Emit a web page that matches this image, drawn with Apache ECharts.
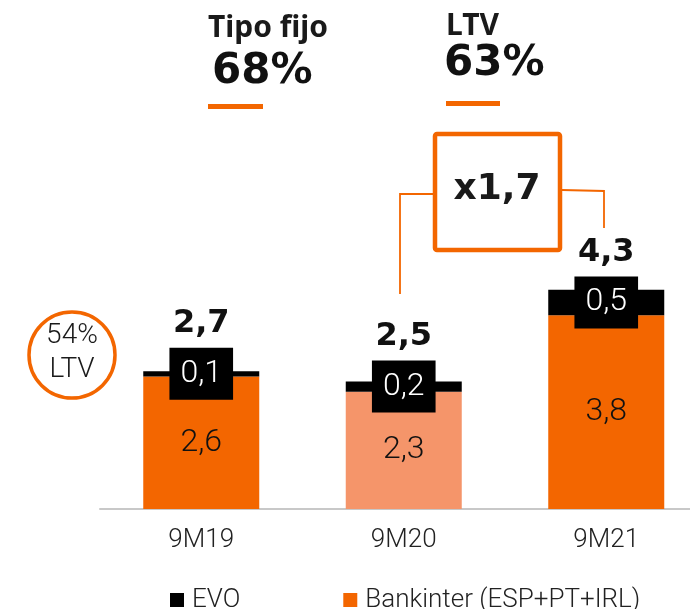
<!DOCTYPE html>
<html>
<head>
<meta charset="utf-8">
<script src="https://cdn.jsdelivr.net/npm/echarts@6/dist/echarts.min.js"></script>
<style>
  html, body { margin: 0; padding: 0; background: #fff; }
  #chart { width: 690px; height: 609px; }
</style>
</head>
<body>
<div id="chart"></div>
<script>
// ---- data ----
var categories = ['9M19', '9M20', '9M21'];
var bankinterValues = [2.6, 2.3, 3.8];
var evoValues = [0.1, 0.2, 0.5];
var totalValues = [2.7, 2.5, 4.3];
var seriesNames = ['EVO', 'Bankinter (ESP+PT+IRL)'];

// ---- styles ----
var ORANGE = '#F36600';
var LIGHT_ORANGE = '#F5956A';
var THIN = 'Roboto';
var HEAVY = 'DejaVu Sans';

function fmt(v) { return v.toFixed(1).replace('.', ','); }

var chart = echarts.init(document.getElementById('chart'), null, { renderer: 'canvas' });

var option = {
  animation: false,
  backgroundColor: '#fff',
  grid: { left: 100, width: 607.5, top: 254, bottom: 100, outerBoundsMode: 'none', containLabel: false },
  xAxis: {
    type: 'category',
    data: categories,
    axisLine: { show: true, lineStyle: { color: '#c8c8c8', width: 2 } },
    axisTick: { show: false },
    axisLabel: { fontFamily: THIN, fontWeight: 300, fontSize: 26, color: '#222', margin: 18 }
  },
  yAxis: { type: 'value', min: 0, max: 5, show: false },
  legend: {
    data: [seriesNames[0], seriesNames[1]],
    left: 165, top: 582,
    itemWidth: 14, itemHeight: 14, itemGap: 103,
    icon: 'rect',
    textStyle: { fontFamily: THIN, fontWeight: 300, fontSize: 26, color: '#222', padding: [0, 0, 0, 3] }
  },
  series: [
    {
      name: seriesNames[1],
      type: 'bar',
      stack: 'total',
      barWidth: 116,
      itemStyle: { color: ORANGE },
      data: bankinterValues.map(function (v, i) {
        return i === 1 ? { value: v, itemStyle: { color: LIGHT_ORANGE } } : v;
      }),
      label: {
        show: true, position: 'inside',
        fontFamily: THIN, fontWeight: 300, fontSize: 32, color: '#111',
        formatter: function (p) { return fmt(p.value); }
      }
    },
    {
      name: seriesNames[0],
      type: 'bar',
      stack: 'total',
      barWidth: 116,
      itemStyle: { color: '#000' },
      data: evoValues,
      label: {
        show: true, position: 'inside',
        fontFamily: THIN, fontWeight: 300, fontSize: 32, color: '#fff',
        backgroundColor: '#000', padding: [10, 11], lineHeight: 32,
        formatter: function (p) { return fmt(p.value); }
      }
    },
    {
      name: 'total',
      type: 'scatter',
      symbolSize: 0,
      silent: true,
      itemStyle: { opacity: 1 },
      data: bankinterValues.map(function (v, i) { return v + evoValues[i] / 2; }),
      label: {
        show: true, position: 'top', distance: 34,
        fontFamily: HEAVY, fontWeight: 'bold', fontSize: 32, color: '#111',
        formatter: function (p) { return fmt(totalValues[p.dataIndex]); }
      },
      z: 5
    }
  ],
  graphic: [
    { type: 'text', left: 208, top: 13, style: { text: 'Tipo fijo', font: 'bold 30px "Noto Sans"', fill: '#1a1a1a' } },
    { type: 'text', left: 212, top: 51, style: { text: '68%', font: 'bold 42px "DejaVu Sans"', fill: '#111' } },
    { type: 'rect', shape: { x: 208, y: 104, width: 55, height: 5 }, style: { fill: ORANGE } },
    { type: 'text', left: 446, top: 11, style: { text: 'LTV', font: 'bold 30px "Noto Sans"', fill: '#1a1a1a' } },
    { type: 'text', left: 444, top: 43, style: { text: '63%', font: 'bold 42px "DejaVu Sans"', fill: '#111' } },
    { type: 'rect', shape: { x: 446, y: 101, width: 54, height: 5 }, style: { fill: ORANGE } },
    { type: 'rect', shape: { x: 435, y: 134, width: 125, height: 116, r: 2 }, style: { fill: 'none', stroke: ORANGE, lineWidth: 4.5 } },
    { type: 'text', style: { x: 497, y: 190, text: 'x1,7', font: 'bold 36px "DejaVu Sans"', fill: '#1a1a1a', textAlign: 'center', textVerticalAlign: 'middle' } },
    { type: 'polyline', shape: { points: [[433, 194], [400, 194], [400, 294]] }, style: { stroke: ORANGE, lineWidth: 1.8, fill: 'none' } },
    { type: 'polyline', shape: { points: [[562, 190], [604, 191], [604, 228]] }, style: { stroke: ORANGE, lineWidth: 1.8, fill: 'none' } },
    { type: 'circle', shape: { cx: 72, cy: 355, r: 43 }, style: { fill: '#fff', stroke: ORANGE, lineWidth: 3.5 } },
    { type: 'text', style: { x: 72, y: 336, text: '54%', font: '300 28px Roboto', fill: '#1a1a1a', textAlign: 'center', textVerticalAlign: 'middle' } },
    { type: 'text', style: { x: 72, y: 370, text: 'LTV', font: '300 28px Roboto', fill: '#1a1a1a', textAlign: 'center', textVerticalAlign: 'middle' } }
  ]
};

chart.setOption(option);
</script>
</body>
</html>
